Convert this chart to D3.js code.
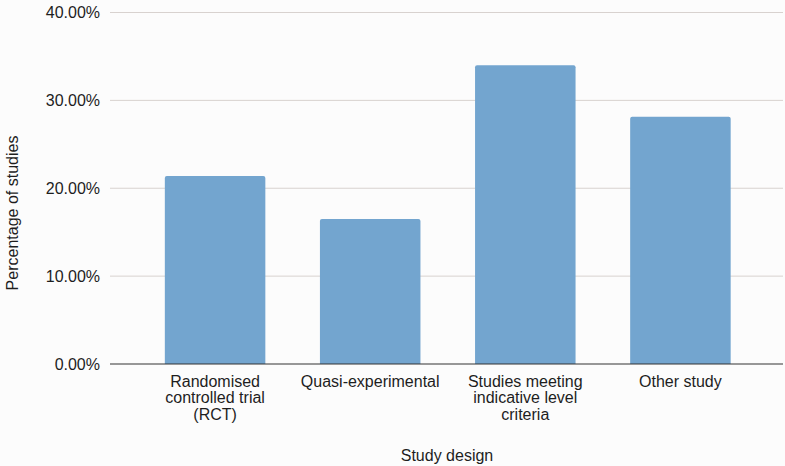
<!DOCTYPE html>
<html><head><meta charset="utf-8">
<script src="https://cdn.jsdelivr.net/npm/d3@7"></script>
<style>
html,body{margin:0;padding:0;background:#fcfcfc;}
svg{display:block;font-family:"Liberation Sans",Arial,Helvetica,sans-serif;}
</style></head>
<body>
<svg id="chart" width="785" height="466"></svg>
<script>
const categories = [["Randomised","controlled trial","(RCT)"],["Quasi-experimental"],["Studies meeting","indicative level","criteria"],["Other study"]];
const categoryKeys = ["Randomised controlled trial (RCT)","Quasi-experimental","Studies meeting indicative level criteria","Other study"];
const values = [0.2139, 0.1650, 0.3399, 0.2814];
const yTicks = [0, 0.1, 0.2, 0.3, 0.4];

(function() {
const svg = d3.select("#chart");
const mLeft = 110, mRight = 783, mTop = 12.5, mBottom = 364;

const x = d3.scaleBand().domain(categoryKeys).range([mLeft, 785.5]).paddingInner(0.352).paddingOuter(0.3535);
const y = d3.scaleLinear().domain([0, 0.4]).range([mBottom, mTop]);

// gridlines
svg.append("g").selectAll("line").data(yTicks.filter(d => d > 0)).join("line")
  .attr("x1", mLeft).attr("x2", mRight)
  .attr("y1", d => y(d)).attr("y2", d => y(d))
  .attr("stroke", "#d8d2cf").attr("stroke-width", 1);

// y tick labels
svg.append("g").selectAll("text").data(yTicks).join("text")
  .attr("x", 100).attr("y", d => y(d)).attr("dy", "0.35em")
  .attr("text-anchor", "end").attr("font-size", 16).attr("fill", "#1e1e1e")
  .text(d => d3.format(".2%")(d));

// bars with rounded top corners
const r = 2;
svg.append("g").selectAll("path").data(values).join("path")
  .attr("fill", "#73a5cf")
  .attr("d", (d, i) => {
    const x0 = x(categoryKeys[i]), w = x.bandwidth(), y0 = y(d), y1 = y(0);
    return `M${x0},${y1}V${y0 + r}Q${x0},${y0} ${x0 + r},${y0}H${x0 + w - r}Q${x0 + w},${y0} ${x0 + w},${y0 + r}V${y1}Z`;
  });

// zero axis line
svg.append("line").attr("x1", mLeft).attr("x2", mRight)
  .attr("y1", y(0)).attr("y2", y(0))
  .attr("stroke", "#333").attr("stroke-width", 1.2);

// category labels
const lab = svg.append("g").selectAll("text").data(categories).join("text")
  .attr("x", (d, i) => x(categoryKeys[i]) + x.bandwidth() / 2)
  .attr("y", 386.5)
  .attr("text-anchor", "middle").attr("font-size", 16).attr("fill", "#1e1e1e");
lab.selectAll("tspan").data(d => d).join("tspan")
  .attr("x", function() { return this.parentNode.getAttribute("x"); })
  .attr("dy", (d, i) => i === 0 ? 0 : 16.7)
  .text(d => d);

// axis titles
svg.append("text").attr("x", 447).attr("y", 461)
  .attr("text-anchor", "middle").attr("font-size", 16).attr("fill", "#1e1e1e")
  .text("Study design");
svg.append("text").attr("transform", "translate(18,213) rotate(-90)")
  .attr("text-anchor", "middle").attr("font-size", 16).attr("fill", "#1e1e1e")
  .text("Percentage of studies");
})();
</script>
</body></html>
